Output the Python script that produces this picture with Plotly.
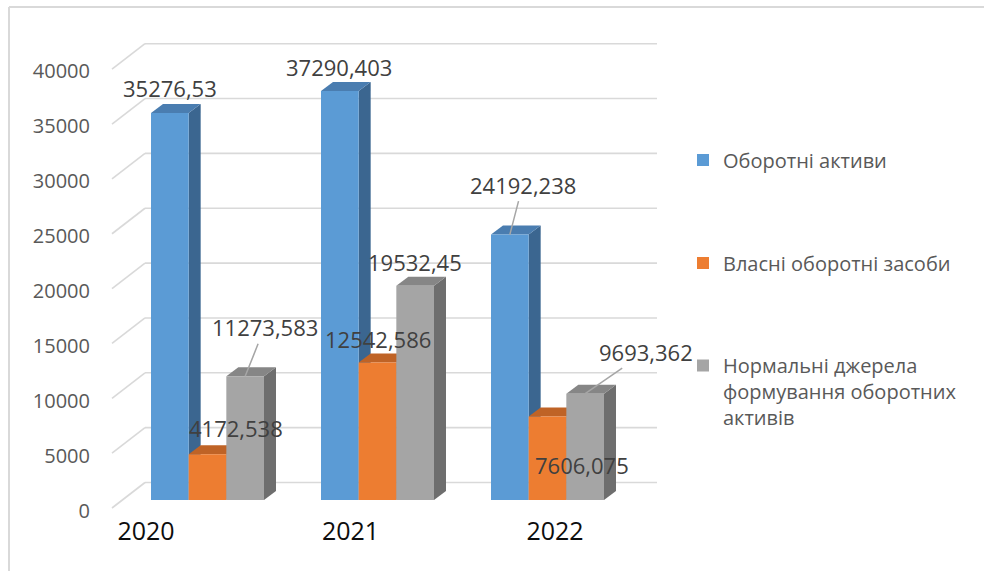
import plotly.graph_objects as go

# ---- data -------------------------------------------------------------
YEARS = ["2020", "2021", "2022"]
SERIES_NAMES = [
    "Оборотні активи",
    "Власні оборотні засоби",
    "Нормальні джерела<br>формування оборотних<br>активів",
]
CURRENT_ASSETS = [35276.53, 37290.403, 24192.238]
OWN_WORKING_CAPITAL = [4172.538, 12542.586, 7606.075]
NORMAL_SOURCES = [11273.583, 19532.45, 9693.362]
Y_TICKS = [0, 5000, 10000, 15000, 20000, 25000, 30000, 35000, 40000]

SERIES_VALUES = [CURRENT_ASSETS, OWN_WORKING_CAPITAL, NORMAL_SOURCES]

# ---- styling / geometry ----------------------------------------------
FONT = "Open Sans"
FRONT = ["#5b9bd5", "#ed7d31", "#a5a5a5"]
TOP = ["#4a7db0", "#bf6326", "#868686"]
SIDE = ["#3b6690", "#a3521d", "#6e6e6e"]
GRID = "#d9d9d9"

W, H = 984, 571
PLOT_L, PLOT_R, PLOT_T, PLOT_B = 100, 670, 20, 520
CAT0_PX, CAT_STEP_PX = 207.5, 170.0          # centre of first category, spacing
BASE_PX, PX_PER_UNIT = 500.0, 0.01097        # front face baseline and scale
GROUP_W = 113.0 / CAT_STEP_PX
BAR_W = GROUP_W / 3
DEPTH_DX_PX, DEPTH_DY_PX = 12, 9             # bar depth projection
WALL_FRONT_PX, WALL_BACK_PX, WALL_RIGHT_PX = 112, 145, 657
WALL_RISE_PX, WALL_DROP_PX = 17.5, 8          # back wall / side wall offsets
LABEL_BASE_PX, LABEL_PX_PER_UNIT = 510.5, 0.011
YEAR_AXIS_PX = 514


def xd(px):
    return (px - CAT0_PX) / CAT_STEP_PX


def dxd(px):
    return px / CAT_STEP_PX


def yd(py):
    return (BASE_PX - py) / PX_PER_UNIT


def dyd(px):
    return px / PX_PER_UNIT


def paper_x(px):
    return (px - PLOT_L) / (PLOT_R - PLOT_L)


def paper_y(py):
    return (PLOT_B - py) / (PLOT_B - PLOT_T)


fig = go.Figure()
shapes = []

# back wall gridlines and side wall diagonals
for v in Y_TICKS:
    back_v = v + dyd(WALL_RISE_PX)
    front_v = v - dyd(WALL_DROP_PX)
    shapes.append(dict(type="line", layer="below", xref="x", yref="y",
                       x0=xd(WALL_BACK_PX), x1=xd(WALL_RIGHT_PX), y0=back_v, y1=back_v,
                       line=dict(color=GRID, width=1.6)))
    shapes.append(dict(type="line", layer="below", xref="x", yref="y",
                       x0=xd(WALL_FRONT_PX), x1=xd(WALL_BACK_PX), y0=front_v, y1=back_v,
                       line=dict(color=GRID, width=1.6)))

positions = list(range(len(YEARS)))
ddx, ddy = dxd(DEPTH_DX_PX), dyd(DEPTH_DY_PX)

# bar side and top faces (drawn under the front faces)
for i in positions:
    for k, values in enumerate(SERIES_VALUES):
        v = values[i]
        x0 = i - GROUP_W / 2 + k * BAR_W
        x1 = x0 + BAR_W
        side = (f"M{x1},0 L{x1 + ddx},{ddy} L{x1 + ddx},{v + ddy} L{x1},{v} Z")
        top = (f"M{x0},{v} L{x0 + ddx},{v + ddy} L{x1 + ddx},{v + ddy} L{x1},{v} Z")
        shapes.append(dict(type="path", path=side, layer="below", xref="x", yref="y",
                           fillcolor=SIDE[k], line=dict(width=0)))
        shapes.append(dict(type="path", path=top, layer="below", xref="x", yref="y",
                           fillcolor=TOP[k], line=dict(width=0)))

# front faces
legends = ["legend", "legend2", "legend3"]
for k, values in enumerate(SERIES_VALUES):
    fig.add_trace(go.Bar(
        x=positions, y=values, name=SERIES_NAMES[k],
        width=BAR_W, offset=-GROUP_W / 2 + k * BAR_W,
        marker=dict(color=FRONT[k], line=dict(width=0)),
        legend=legends[k], hoverinfo="skip",
    ))

# carrier for the value axis labels
fig.add_trace(go.Scatter(x=[0], y=[0], yaxis="y2", mode="markers",
                         marker=dict(opacity=0), showlegend=False, hoverinfo="skip"))

# value labels: (dx, dy) in pixels from the front-top centre, arrow = leader line
LABEL_OFFSETS = [
    [(0.5, -25, False), (-0.5, -24, False), (13, -50, True)],
    [(28.5, -26, False), (0, -23, False), (34.5, 48, False)],
    [(19.5, -49, True), (-0.5, -24, False), (61, -42, True)],
]
annotations = []
for k, values in enumerate(SERIES_VALUES):
    for i in positions:
        v = values[i]
        cx = i - GROUP_W / 2 + (k + 0.5) * BAR_W
        dx, dy, arrow = LABEL_OFFSETS[k][i]
        text = str(v).replace(".", ",")
        a = dict(x=cx, y=v, xref="x", yref="y", text=text,
                 font=dict(family=FONT, size=22, color="#404040"))
        if arrow:
            a.update(showarrow=True, ax=dx, ay=dy, arrowhead=0, arrowwidth=1.5,
                     arrowcolor="#a6a6a6", standoff=0, startstandoff=0)
        else:
            a.update(showarrow=False, xshift=dx, yshift=-dy)
        annotations.append(a)

# chart area frame (top and left edges)
shapes.append(dict(type="line", xref="paper", yref="paper", layer="above",
                   x0=paper_x(9), x1=paper_x(990), y0=paper_y(7), y1=paper_y(7),
                   line=dict(color=GRID, width=2)))
shapes.append(dict(type="line", xref="paper", yref="paper", layer="above",
                   x0=paper_x(9), x1=paper_x(9), y0=paper_y(7), y1=paper_y(580),
                   line=dict(color=GRID, width=2)))

year_label_shift_px = [-61.5, -27, 7.5]

legend_style = dict(font=dict(family=FONT, size=20, color="#595959"),
                    bgcolor="rgba(0,0,0,0)", borderwidth=0, xanchor="left")

fig.update_layout(
    width=W, height=H,
    margin=dict(l=PLOT_L, r=W - PLOT_R, t=PLOT_T, b=H - PLOT_B, pad=0),
    paper_bgcolor="white", plot_bgcolor="white",
    barmode="overlay", showlegend=True,
    xaxis=dict(range=[xd(PLOT_L), xd(PLOT_R)], showgrid=False, zeroline=False,
               showline=False, ticks="", anchor="free", position=paper_y(YEAR_AXIS_PX),
               tickvals=[i + dxd(s) for i, s in zip(positions, year_label_shift_px)],
               ticktext=YEARS,
               tickfont=dict(family=FONT, size=25, color="#0d0d0d")),
    yaxis=dict(range=[yd(PLOT_B), yd(PLOT_T)], visible=False),
    yaxis2=dict(overlaying="y", anchor="free", position=0, side="left",
                range=[(LABEL_BASE_PX - PLOT_B) / LABEL_PX_PER_UNIT,
                       (LABEL_BASE_PX - PLOT_T) / LABEL_PX_PER_UNIT],
                tickvals=Y_TICKS, tickformat="d", showgrid=False, zeroline=False,
                showline=False, ticks="", ticklabelstandoff=10,
                tickfont=dict(family=FONT, size=20, color="#595959")),
    legend=dict(x=paper_x(683), y=paper_y(160), yanchor="middle", **legend_style),
    legend2=dict(x=paper_x(683), y=paper_y(263), yanchor="middle", **legend_style),
    legend3=dict(x=paper_x(683), y=paper_y(346), yanchor="top", valign="top",
                 **legend_style),
    shapes=shapes,
    annotations=annotations,
)

fig.write_html("out.html")
